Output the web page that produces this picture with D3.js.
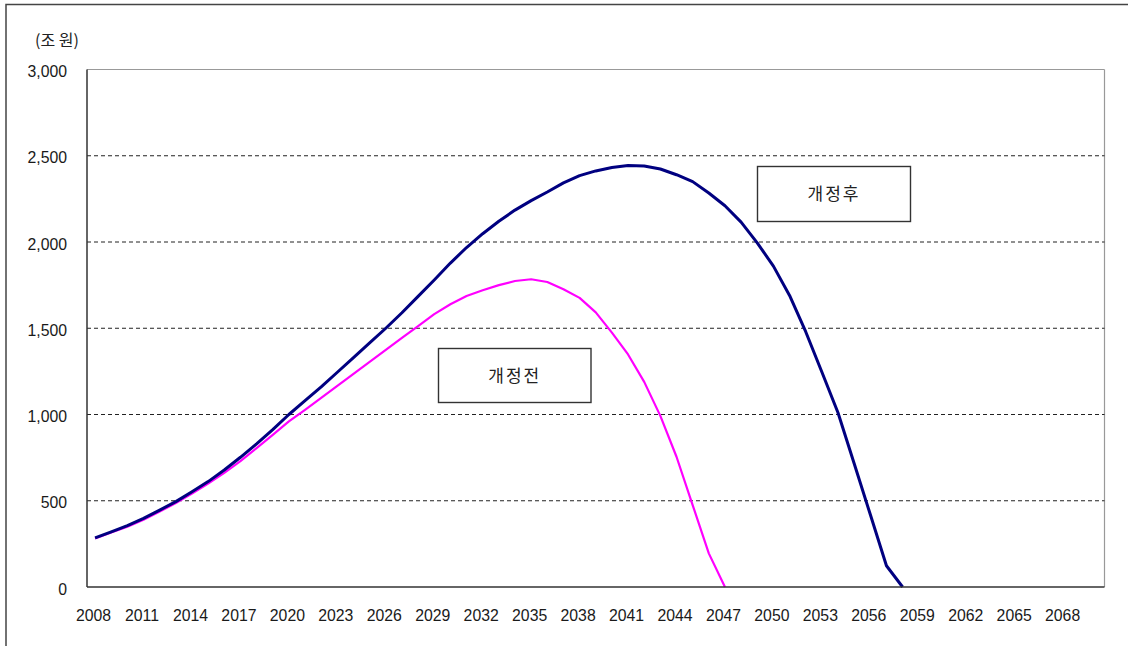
<!DOCTYPE html>
<html>
<head>
<meta charset="utf-8">
<script src="https://cdn.jsdelivr.net/npm/d3@7"></script>
<style>
  html, body { margin: 0; padding: 0; background: #fff; }
  svg { display: block; }
  .tick-label { font-family: "Liberation Sans", Arial, sans-serif; font-size: 15.8px; fill: #1a1a1a; }
  .kr { font-family: "Noto Sans CJK KR", sans-serif; fill: #222; }
</style>
</head>
<body>
<script>
// Years on the category axis
const years = [2008, 2009, 2010, 2011, 2012, 2013, 2014, 2015, 2016, 2017,
  2018, 2019, 2020, 2021, 2022, 2023, 2024, 2025, 2026, 2027,
  2028, 2029, 2030, 2031, 2032, 2033, 2034, 2035, 2036, 2037,
  2038, 2039, 2040, 2041, 2042, 2043, 2044, 2045, 2046, 2047,
  2048, 2049, 2050, 2051, 2052, 2053, 2054, 2055, 2056, 2057,
  2058, 2059, 2060, 2061, 2062, 2063, 2064, 2065, 2066, 2067,
  2068, 2069, 2070];

// Labelled years on the x axis (every third year)
const xTickLabels = [2008, 2011, 2014, 2017, 2020, 2023, 2026, 2029, 2032, 2035,
  2038, 2041, 2044, 2047, 2050, 2053, 2056, 2059, 2062, 2065, 2068];

// Value axis ticks (조 원)
const yTicks = [0, 500, 1000, 1500, 2000, 2500, 3000];

// Fund reserve after the reform (개정후), 2008–2058
const afterReform = [285, 320, 356, 398, 446, 495, 552, 611, 678, 752,
  830, 912, 1000, 1080, 1160, 1245, 1330, 1415, 1500, 1590,
  1685, 1780, 1878, 1968, 2048, 2120, 2185, 2240, 2290, 2343,
  2385, 2412, 2432, 2443, 2441, 2423, 2390, 2350, 2284, 2210,
  2115, 1995, 1860, 1690, 1480, 1246, 1010, 716, 420, 123,
  0];

// Fund reserve before the reform (개정전), 2008–2047
const beforeReform = [282, 316, 350, 390, 437, 487, 542, 600, 662, 730,
  805, 882, 960, 1027, 1096, 1166, 1235, 1305, 1374, 1444,
  1512, 1582, 1639, 1687, 1720, 1750, 1774, 1784, 1768, 1726,
  1676, 1592, 1475, 1348, 1189, 992, 755, 475, 195, 0];

const W = 1128, H = 646;
const plot = { left: 87, right: 1104.5, top: 69.5, bottom: 587 };

const svg = d3.select("body").append("svg")
  .attr("width", W).attr("height", H);

// Outer frame (left and top edges visible)
svg.append("rect")
  .attr("x", 6).attr("y", 4.5)
  .attr("width", W + 20).attr("height", H + 20)
  .attr("fill", "none").attr("stroke", "#444").attr("stroke-width", 1.5);

const x = d3.scaleBand().domain(years).range([plot.left, plot.right]).paddingInner(0).paddingOuter(0);
const y = d3.scaleLinear().domain([0, 3000]).range([plot.bottom, plot.top]);
const cx = yr => x(yr) + x.bandwidth() / 2;

// Plot area: light top/right edges
svg.append("line")
  .attr("x1", plot.left).attr("x2", plot.right)
  .attr("y1", plot.top).attr("y2", plot.top)
  .attr("stroke", "#999").attr("stroke-width", 1.2);
svg.append("line")
  .attr("x1", plot.right).attr("x2", plot.right)
  .attr("y1", plot.top).attr("y2", plot.bottom)
  .attr("stroke", "#999").attr("stroke-width", 1.2);

// Dashed gridlines
svg.append("g").selectAll("line")
  .data(yTicks.filter(v => v > 0 && v < 3000))
  .join("line")
  .attr("x1", plot.left).attr("x2", plot.right)
  .attr("y1", d => y(d)).attr("y2", d => y(d))
  .attr("stroke", "#222").attr("stroke-width", 1)
  .attr("stroke-dasharray", "4,3");

// Left axis line
svg.append("line")
  .attr("x1", plot.left).attr("x2", plot.left)
  .attr("y1", plot.top).attr("y2", plot.bottom)
  .attr("stroke", "#333").attr("stroke-width", 1.5);

// Y axis labels
const yAxis = d3.axisLeft(y).tickValues(yTicks).tickSize(0).tickPadding(0)
  .tickFormat(d3.format(","));
const gy = svg.append("g").attr("transform", `translate(${plot.left - 20},2)`).call(yAxis);
gy.select(".domain").remove();
gy.selectAll("text").attr("class", "tick-label").attr("fill", null);

// X axis labels
const xAxis = d3.axisBottom(x).tickValues(xTickLabels).tickSize(0).tickPadding(0);
const gx = svg.append("g").attr("transform", `translate(-1.5,${plot.bottom + 23})`).call(xAxis);
gx.select(".domain").remove();
gx.selectAll("text").attr("class", "tick-label").attr("fill", null);

// Series lines
const line = d3.line().x((d, i) => cx(years[i])).y(d => y(d));

svg.append("path").datum(beforeReform)
  .attr("d", line)
  .attr("fill", "none").attr("stroke", "#FF00FF").attr("stroke-width", 2.2)
  .attr("stroke-linejoin", "round");

svg.append("path").datum(afterReform)
  .attr("d", line)
  .attr("fill", "none").attr("stroke", "#000080").attr("stroke-width", 3)
  .attr("stroke-linejoin", "round");

// Bottom axis line drawn over the line ends
svg.append("line")
  .attr("x1", plot.left).attr("x2", plot.right)
  .attr("y1", plot.bottom).attr("y2", plot.bottom)
  .attr("stroke", "#333").attr("stroke-width", 1.5);

// Unit label
svg.append("text").attr("class", "kr")
  .attr("x", 35).attr("y", 46)
  .attr("font-size", 16)
  .text("(조 원)");

// Series label boxes
const labels = [
  { text: "개정후", x0: 757.5, y0: 166.5, x1: 910.5, y1: 221.5 },
  { text: "개정전", x0: 438.5, y0: 348.5, x1: 591, y1: 402.5 }
];
const lg = svg.append("g").selectAll("g").data(labels).join("g");
lg.append("rect")
  .attr("x", d => d.x0).attr("y", d => d.y0)
  .attr("width", d => d.x1 - d.x0).attr("height", d => d.y1 - d.y0)
  .attr("fill", "#fff").attr("stroke", "#333").attr("stroke-width", 1.4);
lg.append("text").attr("class", "kr")
  .attr("x", d => (d.x0 + d.x1) / 2).attr("y", d => (d.y0 + d.y1) / 2 + 6)
  .attr("text-anchor", "middle")
  .attr("font-size", 17).attr("letter-spacing", 2)
  .text(d => d.text);
</script>
</body>
</html>
